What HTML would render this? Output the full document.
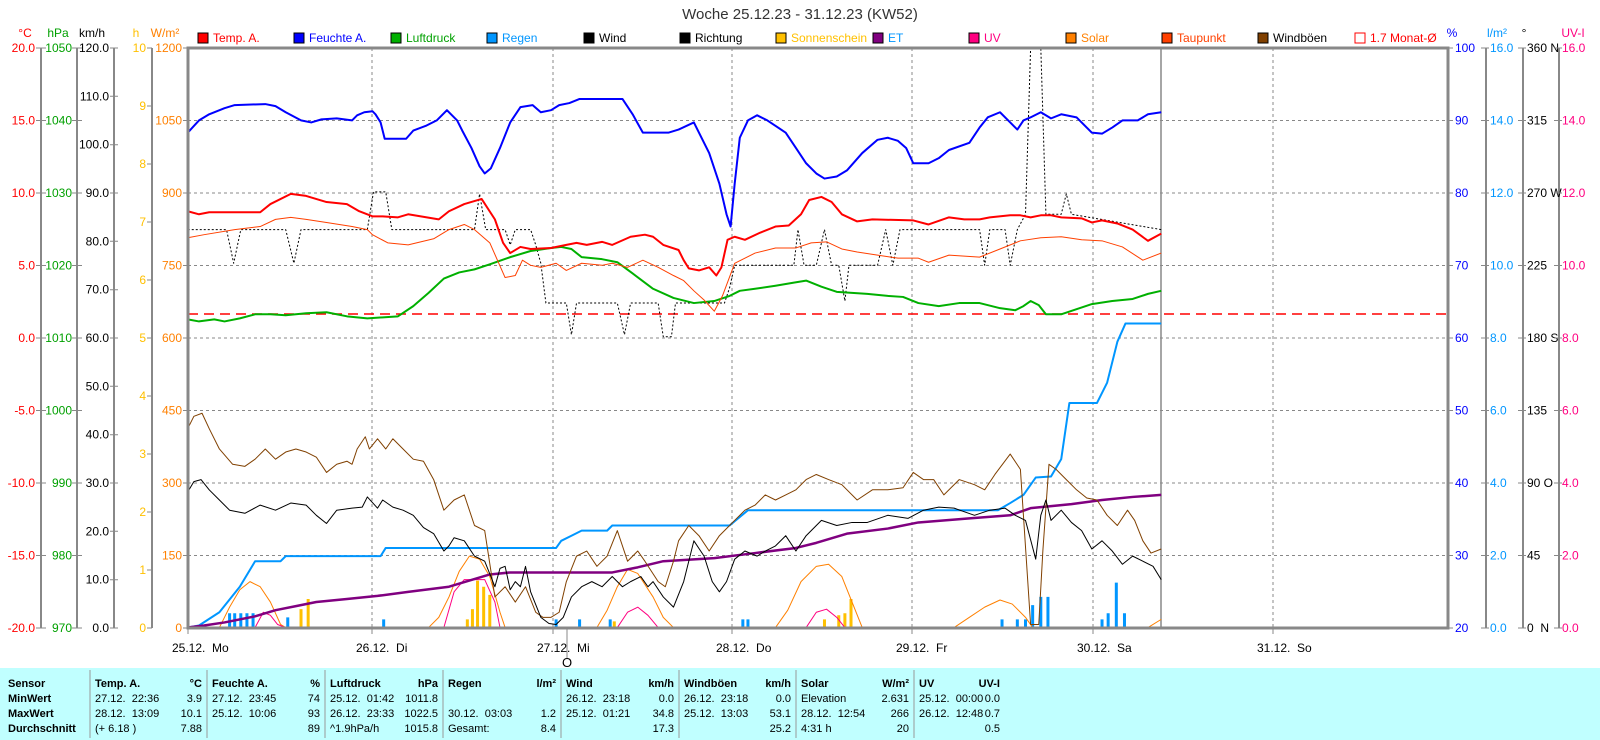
<!DOCTYPE html>
<html><head><meta charset="utf-8"><style>
body{margin:0;background:#fff;width:1600px;height:740px;overflow:hidden}
svg{display:block;font-family:"Liberation Sans",sans-serif}
.t{font-size:11px}
.b{font-weight:bold}
</style></head><body>
<svg width="1600" height="740" viewBox="0 0 1600 740">
<rect width="1600" height="740" fill="#fff"/>
<text x="800" y="19" font-size="15" text-anchor="middle" fill="#333">Woche 25.12.23 - 31.12.23 (KW52)</text>
<g font-size="12">
<text x="25" y="37" fill="#f00" text-anchor="middle">°C</text>
<text x="58" y="37" fill="#00a000" text-anchor="middle">hPa</text>
<text x="92" y="37" fill="#000" text-anchor="middle">km/h</text>
<text x="136" y="37" fill="#ffc000" text-anchor="middle">h</text>
<text x="165" y="37" fill="#ff8000" text-anchor="middle">W/m²</text>
<text x="1452" y="37" fill="#00f" text-anchor="middle">%</text>
<text x="1497" y="37" fill="#0096ff" text-anchor="middle">l/m²</text>
<text x="1524" y="37" fill="#000" text-anchor="middle">°</text>
<text x="1573" y="37" fill="#ff0080" text-anchor="middle">UV-I</text>
</g>
<g font-size="12">
<rect x="198" y="33" width="10" height="10" fill="#f00" stroke="#000"/><text x="213" y="42" fill="#f00">Temp. A.</text>
<rect x="294" y="33" width="10" height="10" fill="#00f" stroke="#000"/><text x="309" y="42" fill="#00f">Feuchte A.</text>
<rect x="391" y="33" width="10" height="10" fill="#00b000" stroke="#000"/><text x="406" y="42" fill="#00a000">Luftdruck</text>
<rect x="487" y="33" width="10" height="10" fill="#0096ff" stroke="#000"/><text x="502" y="42" fill="#0096ff">Regen</text>
<rect x="584" y="33" width="10" height="10" fill="#000" stroke="#000"/><text x="599" y="42" fill="#000">Wind</text>
<rect x="680" y="33" width="10" height="10" fill="#000" stroke="#000"/><text x="695" y="42" fill="#000">Richtung</text>
<rect x="776" y="33" width="10" height="10" fill="#ffc000" stroke="#000"/><text x="791" y="42" fill="#ffc000">Sonnenschein</text>
<rect x="873" y="33" width="10" height="10" fill="#800080" stroke="#000"/><text x="888" y="42" fill="#0096ff">ET</text>
<rect x="969" y="33" width="10" height="10" fill="#ff0080" stroke="#000"/><text x="984" y="42" fill="#ff0080">UV</text>
<rect x="1066" y="33" width="10" height="10" fill="#ff8000" stroke="#000"/><text x="1081" y="42" fill="#ff8000">Solar</text>
<rect x="1162" y="33" width="10" height="10" fill="#ff4000" stroke="#000"/><text x="1177" y="42" fill="#ff4000">Taupunkt</text>
<rect x="1258" y="33" width="10" height="10" fill="#804000" stroke="#000"/><text x="1273" y="42" fill="#000">Windböen</text>
<rect x="1355" y="33" width="10" height="10" fill="#fff" stroke="#f00"/><text x="1370" y="42" fill="#f00">1.7 Monat-Ø</text>
</g>
<g stroke="#888" stroke-width="1" stroke-dasharray="3,3">
<line x1="188" x2="1448" y1="120.5" y2="120.5"/><line x1="188" x2="1448" y1="193" y2="193"/>
<line x1="188" x2="1448" y1="265.5" y2="265.5"/><line x1="188" x2="1448" y1="338" y2="338"/>
<line x1="188" x2="1448" y1="410.5" y2="410.5"/><line x1="188" x2="1448" y1="483" y2="483"/>
<line x1="188" x2="1448" y1="555.5" y2="555.5"/>
<line x1="372" x2="372" y1="48" y2="628"/><line x1="553" x2="553" y1="48" y2="628"/>
<line x1="732" x2="732" y1="48" y2="628"/><line x1="912" x2="912" y1="48" y2="628"/>
<line x1="1093" x2="1093" y1="48" y2="628"/><line x1="1273" x2="1273" y1="48" y2="628"/>
</g>
<line x1="1161" x2="1161" y1="48" y2="628" stroke="#888" stroke-width="1.5"/>
<g stroke="#888" stroke-width="2">
<line x1="41" x2="41" y1="48" y2="628"/><line x1="77" x2="77" y1="48" y2="628"/>
<line x1="114" x2="114" y1="48" y2="628"/><line x1="152" x2="152" y1="48" y2="628"/>
<line x1="1486" x2="1486" y1="48" y2="628"/><line x1="1523" x2="1523" y1="48" y2="628"/>
<line x1="1559" x2="1559" y1="48" y2="628"/>
</g>
<g font-size="12">
<g fill="#f00" text-anchor="end">
<text x="35" y="52">20.0</text><text x="35" y="124.5">15.0</text><text x="35" y="197">10.0</text><text x="35" y="269.5">5.0</text><text x="35" y="342">0.0</text><text x="35" y="414.5">-5.0</text><text x="35" y="487">-10.0</text><text x="35" y="559.5">-15.0</text><text x="35" y="632">-20.0</text></g>
<g fill="#00a000" text-anchor="end">
<text x="72" y="52">1050</text><text x="72" y="124.5">1040</text><text x="72" y="197">1030</text><text x="72" y="269.5">1020</text><text x="72" y="342">1010</text><text x="72" y="414.5">1000</text><text x="72" y="487">990</text><text x="72" y="559.5">980</text><text x="72" y="632">970</text></g>
<g fill="#000" text-anchor="end">
<text x="109" y="52">120.0</text><text x="109" y="100.3">110.0</text><text x="109" y="148.7">100.0</text><text x="109" y="197">90.0</text><text x="109" y="245.3">80.0</text><text x="109" y="293.7">70.0</text><text x="109" y="342">60.0</text><text x="109" y="390.3">50.0</text><text x="109" y="438.7">40.0</text><text x="109" y="487">30.0</text><text x="109" y="535.3">20.0</text><text x="109" y="583.7">10.0</text><text x="109" y="632">0.0</text></g>
<g fill="#ffc000" text-anchor="end">
<text x="146" y="52">10</text><text x="146" y="110">9</text><text x="146" y="168">8</text><text x="146" y="226">7</text><text x="146" y="284">6</text><text x="146" y="342">5</text><text x="146" y="400">4</text><text x="146" y="458">3</text><text x="146" y="516">2</text><text x="146" y="574">1</text><text x="146" y="632">0</text></g>
<g fill="#ff8000" text-anchor="end">
<text x="182" y="52">1200</text><text x="182" y="124.5">1050</text><text x="182" y="197">900</text><text x="182" y="269.5">750</text><text x="182" y="342">600</text><text x="182" y="414.5">450</text><text x="182" y="487">300</text><text x="182" y="559.5">150</text><text x="182" y="632">0</text></g>
<g fill="#00f">
<text x="1455" y="52">100</text><text x="1455" y="124.5">90</text><text x="1455" y="197">80</text><text x="1455" y="269.5">70</text><text x="1455" y="342">60</text><text x="1455" y="414.5">50</text><text x="1455" y="487">40</text><text x="1455" y="559.5">30</text><text x="1455" y="632">20</text></g>
<g fill="#0096ff">
<text x="1490" y="52">16.0</text><text x="1490" y="124.5">14.0</text><text x="1490" y="197">12.0</text><text x="1490" y="269.5">10.0</text><text x="1490" y="342">8.0</text><text x="1490" y="414.5">6.0</text><text x="1490" y="487">4.0</text><text x="1490" y="559.5">2.0</text><text x="1490" y="632">0.0</text></g>
<g fill="#000">
<text x="1527" y="52">360 N</text><text x="1527" y="124.5">315</text><text x="1527" y="197">270 W</text><text x="1527" y="269.5">225</text><text x="1527" y="342">180 S</text><text x="1527" y="414.5">135</text><text x="1527" y="487">90 O</text><text x="1527" y="559.5">45</text><text x="1527" y="632">0 &#160;N</text></g>
<g fill="#ff0080">
<text x="1562" y="52">16.0</text><text x="1562" y="124.5">14.0</text><text x="1562" y="197">12.0</text><text x="1562" y="269.5">10.0</text><text x="1562" y="342">8.0</text><text x="1562" y="414.5">6.0</text><text x="1562" y="487">4.0</text><text x="1562" y="559.5">2.0</text><text x="1562" y="632">0.0</text></g>
</g>
<g stroke="#888" stroke-width="1">
<path d="M36 48h10M36 120.5h10M36 193h10M36 265.5h10M36 338h10M36 410.5h10M36 483h10M36 555.5h10M36 628h10"/>
<path d="M72 48h10M72 120.5h10M72 193h10M72 265.5h10M72 338h10M72 410.5h10M72 483h10M72 555.5h10M72 628h10"/>
<path d="M110 48h8M110 96.3h8M110 144.7h8M110 193h8M110 241.3h8M110 289.7h8M110 338h8M110 386.3h8M110 434.7h8M110 483h8M110 531.3h8M110 579.7h8M110 628h8"/>
<path d="M147 48h5M147 106h5M147 164h5M147 222h5M147 280h5M147 338h5M147 396h5M147 454h5M147 512h5M147 570h5M147 628h5"/>
<path d="M183 48h5M183 120.5h5M183 193h5M183 265.5h5M183 338h5M183 410.5h5M183 483h5M183 555.5h5M183 628h5"/>
<path d="M1448 48h5M1448 120.5h5M1448 193h5M1448 265.5h5M1448 338h5M1448 410.5h5M1448 483h5M1448 555.5h5M1448 628h5"/>
<path d="M1481 48h8M1481 120.5h8M1481 193h8M1481 265.5h8M1481 338h8M1481 410.5h8M1481 483h8M1481 555.5h8M1481 628h8"/>
<path d="M1518 48h8M1518 120.5h8M1518 193h8M1518 265.5h8M1518 338h8M1518 410.5h8M1518 483h8M1518 555.5h8M1518 628h8"/>
<path d="M1554 48h8M1554 120.5h8M1554 193h8M1554 265.5h8M1554 338h8M1554 410.5h8M1554 483h8M1554 555.5h8M1554 628h8"/>
<path d="M188 628v6M372 628v6M553 628v6M732 628v6M912 628v6M1093 628v6M1273 628v6M567 628v30"/>
</g>
<line x1="188" x2="1448" y1="314" y2="314" stroke="#f00" stroke-width="1.5" stroke-dasharray="10,6"/>
<g transform="matrix(1.0204,0,0,1.0204,0,0)" fill="none" stroke-linejoin="round">
<g stroke="#0096ff" stroke-width="3">
<path vector-effect="non-scaling-stroke" d="M225 615v-14M230 615v-14M236 615v-14M242 615v-14M248 615v-14M282 615v-10M376 615v-8M545 615v-8M568 615v-8M598 615v-8M728 615v-8M733 615v-8M982 615v-8M997 615v-8M1005 615v-8M1012 615v-22M1020 615v-30M1027 615v-30M1080 615v-8M1086 615v-14M1094 615v-44M1102 615v-14"/>
</g>
<g stroke="#ffc000" stroke-width="3">
<path vector-effect="non-scaling-stroke" d="M295 615v-18M302 615v-28M458 615v-8M463 615v-18M468 615v-46M474 615v-40M480 615v-32M602 615v-6M808 615v-8M822 615v-12M828 615v-14M834 615v-28"/>
</g>
<path vector-effect="non-scaling-stroke" stroke="#ff8000" stroke-width="1" d="M215 615L225 595L235 578L245 570L255 575L265 590L275 612L280 615 M420 615L430 605L440 585L450 560L460 545L470 548L480 565L490 600L495 615 M585 615L595 598L605 575L615 558L625 562L640 585L650 605L660 615 M760 615L772 598L785 570L800 555L812 553L825 565L835 590L845 615 M935 615L950 605L965 595L980 588L992 592L1005 605L1012 615 M1125 615L1138 607"/>
<path vector-effect="non-scaling-stroke" stroke="#ff0080" stroke-width="1" d="M250 615L258 600L265 603L272 612L280 615 M435 615L445 580L455 568L475 568L485 590L490 615 M605 615L615 600L625 595L635 603L645 615 M790 615L800 600L810 597L820 605L828 615"/>
<path vector-effect="non-scaling-stroke" stroke="#0096ff" stroke-width="2" d="M184 615L195 613L215 600L235 575L250 550L275 550L280 545L373 545L378 537L545 537L550 530L560 525L570 520L595 520L600 515L715 515L733 500L978 500L990 493L1003 485L1015 468L1030 467L1040 450L1048 395L1075 395L1085 375L1095 335L1103 317L1138 317"/>
<path vector-effect="non-scaling-stroke" stroke="#800080" stroke-width="2.5" d="M184 615L200 613L220 610L250 604L270 598L290 594L310 590L340 587L370 584L400 580L440 575L460 569L480 563L500 561L540 561L600 561L625 556L650 550L700 547L740 542L780 537L800 532L830 523L870 518L900 512L950 508L990 505L1010 498L1050 494L1080 490L1110 487L1138 485"/>
<path vector-effect="non-scaling-stroke" stroke="#804000" stroke-width="1" d="M184 420L190 408L198 405L205 420L215 440L228 455L240 457L250 450L260 440L270 450L280 443L290 440L300 443L310 448L320 463L330 455L340 452L345 455L350 440L358 428L362 440L370 430L378 440L385 430L395 440L405 450L415 452L425 470L435 500L445 490L455 485L465 515L475 520L485 585L495 575L505 590L515 575L525 600L532 605L540 605L548 600L555 570L565 545L575 540L585 555L595 545L605 520L615 550L625 540L632 550L645 570L652 575L660 550L665 530L675 515L685 525L695 540L705 525L715 515L730 500L740 495L750 485L760 490L770 485L780 480L790 470L800 465L812 470L825 475L840 490L855 480L870 480L885 478L895 463L905 470L915 470L925 485L940 470L955 475L965 480L975 465L990 445L1000 460L1010 612L1018 612L1022 540L1028 455L1035 460L1045 470L1055 480L1065 488L1075 490L1085 505L1095 515L1105 500L1112 510L1120 530L1128 542L1138 538"/>
<path vector-effect="non-scaling-stroke" stroke="#000" stroke-width="1" d="M184 482L190 472L197 470L205 480L215 490L225 500L240 503L255 495L270 500L285 493L300 495L310 505L320 513L330 500L345 498L355 497L360 487L370 498L375 490L385 497L395 500L405 505L415 517L425 523L435 540L440 535L445 527L455 530L465 545L475 550L485 575L490 557L495 555L500 578L505 570L510 575L515 555L520 580L530 605L538 611L545 612L552 605L560 585L570 575L580 570L590 575L600 565L610 575L618 570L628 565L635 575L640 570L650 585L660 595L670 570L680 530L690 545L698 570L705 580L712 570L720 548L730 540L742 545L750 540L760 535L770 525L780 540L790 525L805 510L820 515L835 512L850 512L870 505L890 508L905 500L920 497L935 498L955 505L970 500L985 498L995 505L1005 510L1015 548L1020 505L1025 490L1030 510L1040 500L1050 512L1060 520L1070 538L1080 530L1090 540L1100 553L1110 545L1120 550L1130 555L1138 568"/>
<path vector-effect="non-scaling-stroke" stroke="#000" stroke-width="1" stroke-dasharray="2,2" d="M184 225L222 225L229 258L236 225L280 225L288 258L295 225L360 225L366 188L378 188L384 225L465 225L470 190L476 225L495 225L500 240L505 225L520 225L525 240L530 258L535 297L555 297L560 328L565 297L605 297L612 328L618 297L645 297L650 330L658 330L662 297L710 297L715 282L720 260L778 260L782 225L788 260L800 260L808 225L815 260L822 260L828 295L832 260L860 260L868 225L875 260L882 225L960 225L965 260L970 225L985 225L990 260L997 225L1005 210L1010 47L1020 47L1025 210L1040 210L1045 190L1050 210L1138 225"/>
<path vector-effect="non-scaling-stroke" stroke="#00b000" stroke-width="2" d="M184 313L195 315L210 313L220 315L235 312L250 308L265 308L280 309L300 307L320 306L340 310L360 312L390 310L405 300L420 287L435 273L450 267L465 264L480 259L500 252L520 246L540 243L550 242L560 244L570 252L590 254L605 257L620 268L640 283L660 292L680 297L700 295L715 290L725 285L740 283L760 280L778 277L790 275L805 281L820 286L850 288L870 290L885 291L900 297L920 300L940 297L960 297L980 302L995 304L1003 300L1010 295L1018 299L1025 308L1040 308L1055 303L1070 298L1090 295L1110 293L1125 288L1138 285"/>
<path vector-effect="non-scaling-stroke" stroke="#ff4000" stroke-width="1" d="M184 233L200 230L230 225L255 222L270 215L285 213L300 215L320 218L345 222L360 225L365 230L380 238L400 240L425 234L440 225L455 220L465 225L480 238L495 272L505 270L512 255L520 260L530 262L545 258L555 265L570 258L590 260L600 258L615 262L630 255L645 262L660 270L670 275L680 285L690 294L700 305L708 290L720 258L740 248L760 243L780 243L795 238L810 237L825 244L840 247L860 250L880 253L900 253L910 257L930 250L960 252L980 244L1000 236L1020 233L1040 232L1060 235L1080 236L1100 242L1120 255L1138 248"/>
<path vector-effect="non-scaling-stroke" stroke="#f00" stroke-width="2" d="M184 207L195 210L205 208L255 208L265 200L285 190L300 192L320 198L340 200L352 207L365 212L375 212L390 213L400 210L430 215L440 207L455 200L472 195L485 215L493 238L500 248L510 242L520 244L540 243L555 240L565 238L575 240L590 237L600 240L618 232L632 230L640 232L650 240L665 245L670 255L675 263L685 265L695 262L702 270L707 262L713 235L720 232L730 235L745 228L760 222L773 221L785 210L793 196L805 193L815 198L825 210L840 217L855 215L895 216L910 220L930 213L945 215L960 215L970 213L990 211L1000 211L1010 213L1020 211L1030 211L1040 213L1060 214L1070 218L1080 216L1095 219L1110 225L1125 236L1138 229"/>
<path vector-effect="non-scaling-stroke" stroke="#00f" stroke-width="2" d="M184 130L195 118L205 112L220 106L230 103L260 102L270 104L280 110L295 118L305 120L315 117L330 116L345 118L350 113L357 110L365 109L368 112L373 120L377 136L398 136L405 128L418 123L428 118L438 108L442 112L448 118L453 128L462 145L470 163L475 170L481 165L490 145L500 120L510 105L522 103L530 110L540 108L548 103L558 101L568 97L610 97L620 112L630 130L655 130L665 127L680 120L695 150L705 180L712 210L716 222L720 180L725 135L733 118L742 113L752 118L770 130L780 145L790 160L800 170L808 175L820 173L830 167L845 150L860 137L870 135L880 138L888 145L895 160L910 160L920 155L930 147L950 140L960 125L968 115L980 110L990 120L997 127L1003 118L1010 115L1020 110L1030 116L1040 112L1055 115L1065 125L1070 130L1080 131L1090 125L1100 118L1115 118L1125 112L1138 110"/>
</g>
<rect x="188" y="48" width="1260" height="580" fill="none" stroke="#888" stroke-width="3"/>
<g font-size="12" fill="#000">
<text x="172" y="652">25.12.&#160; Mo</text>
<text x="356" y="652">26.12.&#160; Di</text>
<text x="537" y="652">27.12.&#160; Mi</text>
<text x="716" y="652">28.12.&#160; Do</text>
<text x="896" y="652">29.12.&#160; Fr</text>
<text x="1077" y="652">30.12.&#160; Sa</text>
<text x="1257" y="652">31.12.&#160; So</text>
<text x="567" y="667" text-anchor="middle" font-size="13">O</text>
</g>
<rect x="0" y="668" width="1600" height="72" fill="#c0ffff"/>
<g stroke="#999" stroke-width="1">
<path d="M90 670v68M207 670v68M325 670v68M443 670v68M561 670v68M679 670v68M796 670v68M914 670v68"/>
</g>
<g class="t" fill="#000">
<g class="b">
<text x="8" y="687">Sensor</text><text x="8" y="702">MinWert</text><text x="8" y="717">MaxWert</text><text x="8" y="732">Durchschnitt</text>
<text x="95" y="687">Temp. A.</text><text x="202" y="687" text-anchor="end">°C</text>
<text x="212" y="687">Feuchte A.</text><text x="320" y="687" text-anchor="end">%</text>
<text x="330" y="687">Luftdruck</text><text x="438" y="687" text-anchor="end">hPa</text>
<text x="448" y="687">Regen</text><text x="556" y="687" text-anchor="end">l/m²</text>
<text x="566" y="687">Wind</text><text x="674" y="687" text-anchor="end">km/h</text>
<text x="684" y="687">Windböen</text><text x="791" y="687" text-anchor="end">km/h</text>
<text x="801" y="687">Solar</text><text x="909" y="687" text-anchor="end">W/m²</text>
<text x="919" y="687">UV</text><text x="1000" y="687" text-anchor="end">UV-I</text>
</g>
<text x="95" y="702">27.12.&#160; 22:36</text><text x="202" y="702" text-anchor="end">3.9</text>
<text x="95" y="717">28.12.&#160; 13:09</text><text x="202" y="717" text-anchor="end">10.1</text>
<text x="95" y="732">(+ 6.18 )</text><text x="202" y="732" text-anchor="end">7.88</text>
<text x="212" y="702">27.12.&#160; 23:45</text><text x="320" y="702" text-anchor="end">74</text>
<text x="212" y="717">25.12.&#160; 10:06</text><text x="320" y="717" text-anchor="end">93</text>
<text x="320" y="732" text-anchor="end">89</text>
<text x="330" y="702">25.12.&#160; 01:42</text><text x="438" y="702" text-anchor="end">1011.8</text>
<text x="330" y="717">26.12.&#160; 23:33</text><text x="438" y="717" text-anchor="end">1022.5</text>
<text x="330" y="732">^1.9hPa/h</text><text x="438" y="732" text-anchor="end">1015.8</text>
<text x="448" y="717">30.12.&#160; 03:03</text><text x="556" y="717" text-anchor="end">1.2</text>
<text x="448" y="732">Gesamt:</text><text x="556" y="732" text-anchor="end">8.4</text>
<text x="566" y="702">26.12.&#160; 23:18</text><text x="674" y="702" text-anchor="end">0.0</text>
<text x="566" y="717">25.12.&#160; 01:21</text><text x="674" y="717" text-anchor="end">34.8</text>
<text x="674" y="732" text-anchor="end">17.3</text>
<text x="684" y="702">26.12.&#160; 23:18</text><text x="791" y="702" text-anchor="end">0.0</text>
<text x="684" y="717">25.12.&#160; 13:03</text><text x="791" y="717" text-anchor="end">53.1</text>
<text x="791" y="732" text-anchor="end">25.2</text>
<text x="801" y="702">Elevation</text><text x="909" y="702" text-anchor="end">2.631</text>
<text x="801" y="717">28.12.&#160; 12:54</text><text x="909" y="717" text-anchor="end">266</text>
<text x="801" y="732">4:31 h</text><text x="909" y="732" text-anchor="end">20</text>
<text x="919" y="702">25.12.&#160; 00:00</text><text x="1000" y="702" text-anchor="end">0.0</text>
<text x="919" y="717">26.12.&#160; 12:48</text><text x="1000" y="717" text-anchor="end">0.7</text>
<text x="1000" y="732" text-anchor="end">0.5</text>
</g>
</svg>
</body></html>
